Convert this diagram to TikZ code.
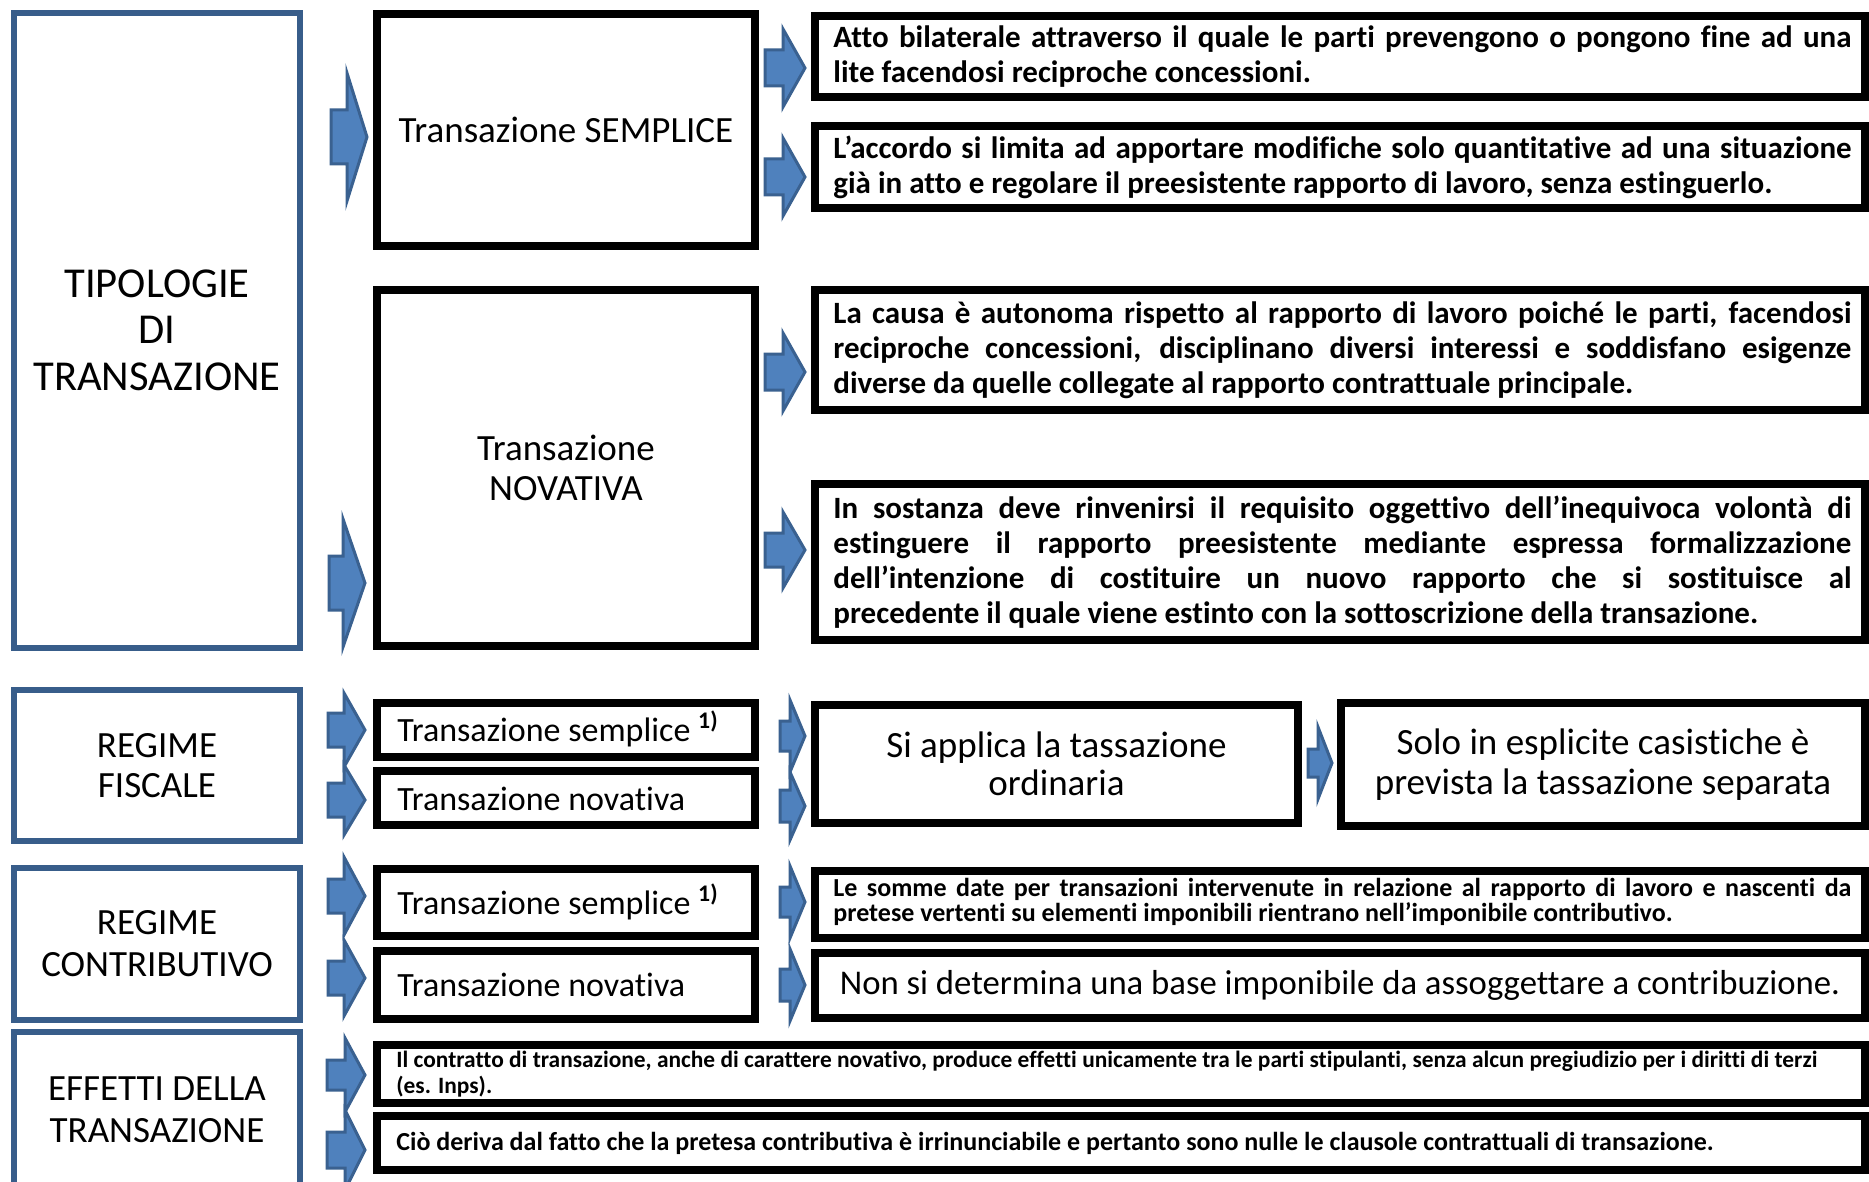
\documentclass[tikz,border=0pt]{standalone}
\usepackage{fontspec}
\setmainfont{Carlito}[Ligatures=NoCommon]
\usetikzlibrary{fit}
\definecolor{blueline}{HTML}{385D8A}
\definecolor{arrowfill}{HTML}{4F81BD}
\definecolor{arrowline}{HTML}{3A6190}
\newcommand{\blockarrow}[6]{%
  \draw[blockarr] (#1,#4-#5) -- (#2,#4-#5) -- (#2,#4-#6) -- (#3,#4) -- (#2,#4+#6) -- (#2,#4+#5) -- (#1,#4+#5) -- cycle;}
\newcommand{\jl}[1]{\makebox[509pt][s]{#1}}
\tikzset{
  bbox/.style={draw=black, line width=3.75pt, inner sep=0pt, fill=white},
  blbox/.style={draw=blueline, line width=3pt, inner sep=0pt, fill=white},
  blockarr/.style={fill=arrowfill, draw=arrowline, line width=1.5pt, line join=miter},
  txt/.style={inner sep=0pt, align=center},
  ltxt/.style={inner sep=0pt, align=left},
  bigf/.style={font=\fontsize{18.5}{20}\selectfont},
  midf/.style={font=\fontsize{17}{20}\selectfont},
  bodyf/.style={font=\fontsize{15.5}{17.5}\selectfont\bfseries},
  smallf/.style={font=\fontsize{13}{11.5}\selectfont\bfseries},
}
\begin{document}
\begin{tikzpicture}[x=0.5pt, y=-0.5pt]
\useasboundingbox (0,0) rectangle (1869,1182);
\clip (0,0) rectangle (1869,1182);
\fill[white] (0,0) rectangle (1869,1182);

% left blue boxes
\node[blbox, fit={(14,13) (300,648)}] (tipo) {};
\node[blbox, fit={(14,690) (300,841)}] (fisc) {};
\node[blbox, fit={(14,868) (300,1020)}] (contr) {};
\node[blbox, fit={(14,1032) (300,1195)}] (eff) {};
\node[txt, font=\fontsize{21.3}{23.25}\selectfont] (tipot) at (157,330) {TIPOLOGIE\\DI\\TRANSAZIONE};
\node[txt, bigf] (fisct) at (157,766) {REGIME\\FISCALE};
\node[txt, font=\fontsize{18.5}{21}\selectfont] (contrt) at (157,944) {REGIME\\CONTRIBUTIVO};
\node[txt, font=\fontsize{18.5}{21}\selectfont] (efft) at (157,1110) {EFFETTI DELLA\\TRANSAZIONE};

% middle black boxes
\node[bbox, fit={(377,14) (755,246)}] (sempl) {};
\node[bbox, fit={(377,290) (755,646)}] (nova) {};
\node[txt, bigf] (semplt) at (sempl.center) {Transazione SEMPLICE};
\node[txt, bigf] (novat) at (nova.center) {Transazione\\NOVATIVA};

\node[bbox, fit={(377,703) (755,757)}] (fs1) {};
\node[bbox, fit={(377,771) (755,825)}] (fs2) {};
\node[bbox, fit={(377,869) (755,936)}] (cs1) {};
\node[bbox, fit={(377,951) (755,1019)}] (cs2) {};
\node[ltxt, midf, anchor=base west] (fs1t) at (397,741) {Transazione semplice \textsuperscript{\textbf{1)}}};
\node[ltxt, midf, anchor=base west] (fs2t) at (397,810) {Transazione novativa};
\node[ltxt, midf, anchor=base west] (cs1t) at (397,914) {Transazione semplice \textsuperscript{\textbf{1)}}};
\node[ltxt, midf, anchor=base west] (cs2t) at (397,996) {Transazione novativa};

% right black boxes
\node[bbox, fit={(815,16) (1865,97)}] (a1) {};
\node[bbox, fit={(815,126) (1865,208)}] (a2) {};
\node[bbox, fit={(815,290) (1865,410)}] (b1) {};
\node[bbox, fit={(815,484) (1865,640)}] (b2) {};
\node[ltxt, bodyf, anchor=west] (a1t) at (833,56.5) {\jl{Atto bilaterale attraverso il quale le parti prevengono o pongono fine ad una}\\lite facendosi reciproche concessioni.};
\node[ltxt, bodyf, anchor=west] (a2t) at (833,167) {\jl{L’accordo si limita ad apportare modifiche solo quantitative ad una situazione}\\già in atto e regolare il preesistente rapporto di lavoro, senza estinguerlo.};
\node[ltxt, bodyf, anchor=west] (b1t) at (833,350) {\jl{La causa è autonoma rispetto al rapporto di lavoro poiché le parti, facendosi}\\\jl{reciproche concessioni, disciplinano diversi interessi e soddisfano esigenze}\\diverse da quelle collegate al rapporto contrattuale principale.};
\node[ltxt, bodyf, anchor=west] (b2t) at (833,562) {\jl{In sostanza deve rinvenirsi il requisito oggettivo dell’inequivoca volontà di}\\\jl{estinguere il rapporto preesistente mediante espressa formalizzazione}\\\jl{dell’intenzione di costituire un nuovo rapporto che si sostituisce al}\\precedente il quale viene estinto con la sottoscrizione della transazione.};

\node[bbox, fit={(815,705) (1298,823)}] (appl) {};
\node[bbox, fit={(1341,703) (1865,826)}] (solo) {};
\node[txt, font=\fontsize{18.5}{19}\selectfont] (applt) at (appl.center) {Si applica la tassazione\\ordinaria};
\node[txt, font=\fontsize{18.5}{20}\selectfont] (solot) at (solo.center) {Solo in esplicite casistiche è\\prevista la tassazione separata};

\node[bbox, fit={(815,871) (1865,938)}] (somme) {};
\node[bbox, fit={(815,953) (1865,1018)}] (nonsi) {};
\node[ltxt, smallf, anchor=west] (sommet) at (833,902) {\jl{Le somme date per transazioni intervenute in relazione al rapporto di lavoro e nascenti da}\\pretese vertenti su elementi imponibili rientrano nell’imponibile contributivo.};
\node[txt, font=\fontsize{17.35}{20}\selectfont] (nonsit) at (nonsi.center) {Non si determina una base imponibile da assoggettare a contribuzione.};

\node[bbox, fit={(377,1045) (1865,1103)}] (e1) {};
\node[bbox, fit={(377,1116) (1865,1170)}] (e2) {};
\node[ltxt, font=\fontsize{11.7}{13}\selectfont\bfseries, anchor=west] (e1t) at (396,1074) {Il contratto di transazione, anche di carattere novativo, produce effetti unicamente tra le parti stipulanti, senza alcun pregiudizio per i diritti di terzi\\(es. Inps).};
\node[ltxt, font=\fontsize{13}{13}\selectfont\bfseries, anchor=west] (e2t) at (396,1143) {Ciò deriva dal fatto che la pretesa contributiva è irrinunciabile e pertanto sono nulle le clausole contrattuali di transazione.};

% block arrows
\blockarrow{331}{347}{367}{137}{27}{64}
\blockarrow{329}{343}{365}{583}{27}{64}
\blockarrow{765}{783}{805}{68}{18}{39}
\blockarrow{765}{783}{805}{177}{18}{39}
\blockarrow{765}{783}{805}{372}{18}{39}
\blockarrow{765}{783}{805}{550}{17}{38}
\blockarrow{328}{344}{365}{730}{17}{37}
\blockarrow{328}{344}{365}{800}{17}{35}
\blockarrow{780}{790}{805}{736}{15}{36}
\blockarrow{780}{790}{805}{806}{16}{34}
\blockarrow{1308}{1318}{1332}{763}{14}{36}
\blockarrow{328}{344}{365}{896}{17}{39}
\blockarrow{328}{344}{365}{978}{17}{38}
\blockarrow{780}{790}{805}{902}{15}{36}
\blockarrow{780}{790}{805}{985}{16}{36}
\blockarrow{327}{345}{365}{1075}{15}{37}
\blockarrow{327}{345}{365}{1150}{18}{40}
\end{tikzpicture}
\end{document}
